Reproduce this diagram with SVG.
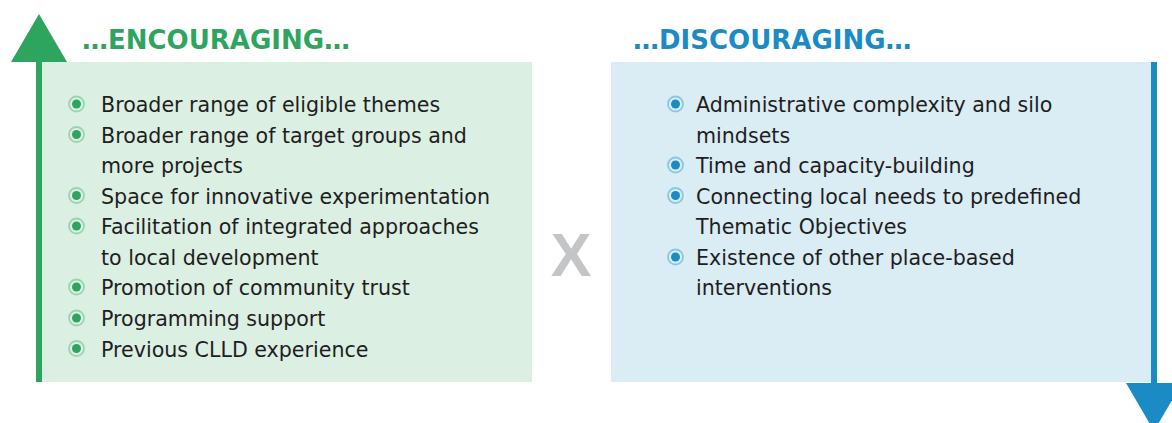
<svg xmlns="http://www.w3.org/2000/svg" width="1172" height="423" viewBox="0 0 1172 423">
<style>
.t{font-family:"DejaVu Sans","Liberation Sans",sans-serif;font-size:20.6px;fill:#1e1e1e}
.h{font-family:"DejaVu Sans","Liberation Sans",sans-serif;font-size:26px;font-weight:bold}
.gr{fill:#2ea55f}
.bl{fill:#1a8bc4}
.gring{fill:none;stroke:#9ad5b0;stroke-width:1.8}
.bring{fill:none;stroke:#8cc6e4;stroke-width:1.8}
</style>
<rect width="1172" height="423" fill="#ffffff"/>
<g id="connectors">
<rect x="36" y="60" width="6" height="322" fill="#2ea55f"/>
<polygon points="39,14 67,62 11,62" fill="#2ea55f"/>
<rect x="1151" y="62" width="6" height="323" fill="#1a8bc4"/>
<polygon points="1126,383 1182,383 1154,431" fill="#1a8bc4"/>
</g>
<g id="encouraging">
<rect x="42" y="62" width="490" height="320" fill="#dcefe3"/>
<text class="h gr" x="82" y="49">…ENCOURAGING…</text>
<g>
<circle class="gring" cx="76.5" cy="104" r="7.5"/><circle class="gr" cx="76.5" cy="104" r="4.5"/>
<circle class="gring" cx="76.5" cy="134.5" r="7.5"/><circle class="gr" cx="76.5" cy="134.5" r="4.5"/>
<circle class="gring" cx="76.5" cy="195.5" r="7.5"/><circle class="gr" cx="76.5" cy="195.5" r="4.5"/>
<circle class="gring" cx="76.5" cy="226" r="7.5"/><circle class="gr" cx="76.5" cy="226" r="4.5"/>
<circle class="gring" cx="76.5" cy="287" r="7.5"/><circle class="gr" cx="76.5" cy="287" r="4.5"/>
<circle class="gring" cx="76.5" cy="318" r="7.5"/><circle class="gr" cx="76.5" cy="318" r="4.5"/>
<circle class="gring" cx="76.5" cy="348.5" r="7.5"/><circle class="gr" cx="76.5" cy="348.5" r="4.5"/>
</g>
<text class="t" x="101" y="112">Broader range of eligible themes</text>
<text class="t" x="101" y="142.5">Broader range of target groups and</text>
<text class="t" x="101" y="173">more projects</text>
<text class="t" x="101" y="203.5">Space for innovative experimentation</text>
<text class="t" x="101" y="234">Facilitation of integrated approaches</text>
<text class="t" x="101" y="264.5">to local development</text>
<text class="t" x="101" y="295">Promotion of community trust</text>
<text class="t" x="101" y="326">Programming support</text>
<text class="t" x="101" y="356.5">Previous CLLD experience</text>
</g>
<g id="x-sign">
<text x="571" y="276" text-anchor="middle" font-family="'Liberation Sans',sans-serif" font-weight="bold" font-size="61" fill="#c3c5c7">X</text>
</g>
<g id="discouraging">
<rect x="611" y="62" width="540" height="320" fill="#daecf4"/>
<text class="h bl" x="633" y="49">…DISCOURAGING…</text>
<g>
<circle class="bring" cx="675.5" cy="104" r="7.5"/><circle class="bl" cx="675.5" cy="104" r="4.5"/>
<circle class="bring" cx="675.5" cy="165" r="7.5"/><circle class="bl" cx="675.5" cy="165" r="4.5"/>
<circle class="bring" cx="675.5" cy="195.5" r="7.5"/><circle class="bl" cx="675.5" cy="195.5" r="4.5"/>
<circle class="bring" cx="675.5" cy="257" r="7.5"/><circle class="bl" cx="675.5" cy="257" r="4.5"/>
</g>
<text class="t" x="696" y="112">Administrative complexity and silo</text>
<text class="t" x="696" y="142.5">mindsets</text>
<text class="t" x="696" y="173">Time and capacity-building</text>
<text class="t" x="696" y="203.5">Connecting local needs to predefined</text>
<text class="t" x="696" y="234">Thematic Objectives</text>
<text class="t" x="696" y="264.5">Existence of other place-based</text>
<text class="t" x="696" y="295">interventions</text>
</g>
</svg>
